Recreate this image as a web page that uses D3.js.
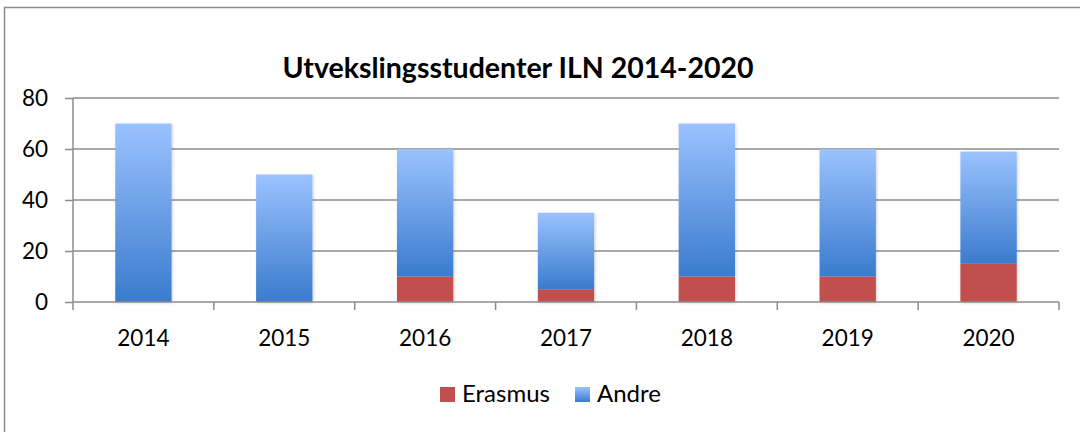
<!DOCTYPE html>
<html>
<head>
<meta charset="utf-8">
<script src="https://cdn.jsdelivr.net/npm/d3@7"></script>
<style>
  body { margin: 0; background: #fff; }
  text { font-family: Lato, "Open Sans", sans-serif; fill: #000; }
</style>
</head>
<body>
<div id="chart-area"></div>
<script>
// data
var years = ["2014", "2015", "2016", "2017", "2018", "2019", "2020"];
var erasmus = [0, 0, 10, 5, 10, 10, 15];
var andre = [70, 50, 50, 30, 60, 50, 44];
var yTicks = [0, 20, 40, 60, 80];
var seriesNames = ["Erasmus", "Andre"];

var W = 1080, H = 432;
var margin = {left: 73, right: 21, top: 98, bottom: 130};
var width = W - margin.left - margin.right;
var height = H - margin.top - margin.bottom;

var svg = d3.select("#chart-area").append("svg")
    .attr("width", W)
    .attr("height", H);

var defs = svg.append("defs");
var grad = defs.append("linearGradient")
    .attr("id", "blueGrad")
    .attr("x1", 0).attr("y1", 0).attr("x2", 0).attr("y2", 1);
grad.append("stop").attr("offset", "0%").attr("stop-color", "#9bc2ff");
grad.append("stop").attr("offset", "100%").attr("stop-color", "#3a7bcd");

var shadow = defs.append("filter").attr("id", "shadow")
    .attr("x", "-20%").attr("y", "-10%").attr("width", "140%").attr("height", "120%");
shadow.append("feDropShadow")
    .attr("dx", 1).attr("dy", 1).attr("stdDeviation", 1.5)
    .attr("flood-color", "#000").attr("flood-opacity", 0.18);

// outer frame (only left and top visible)
svg.append("path")
    .attr("d", "M4.5," + H + " V7.5 H" + W)
    .attr("fill", "none")
    .attr("stroke", "#8c8c8c")
    .attr("stroke-width", 1.5);

var g = svg.append("g")
    .attr("transform", "translate(" + margin.left + "," + margin.top + ")");

var x = d3.scaleBand().domain(years).range([0, width]).paddingInner(0.6).paddingOuter(0.3);
var xb = d3.scaleBand().domain(years).range([0, width]);
var y = d3.scaleLinear().domain([0, 80]).range([height, 0]);

// gridlines
g.append("g").selectAll("line")
    .data(yTicks.filter(function(d){ return d > 0; }))
    .enter().append("line")
    .attr("x1", 0).attr("x2", width)
    .attr("y1", function(d){ return y(d); })
    .attr("y2", function(d){ return y(d); })
    .attr("stroke", "#8c8c8c")
    .attr("stroke-width", 1.5);

// stacked data
var rows = years.map(function(yr, i){
    return {year: yr, Erasmus: erasmus[i], Andre: andre[i]};
});
var stack = d3.stack().keys(seriesNames)(rows);
var fills = {Erasmus: "#c0504d", Andre: "url(#blueGrad)"};

var bars = g.append("g").attr("filter", "url(#shadow)");
bars.selectAll("g.series")
    .data(stack)
    .enter().append("g")
    .attr("class", "series")
    .attr("fill", function(d){ return fills[d.key]; })
    .selectAll("rect")
    .data(function(d){ return d.filter(function(p){ return p[1] - p[0] > 0; }); })
    .enter().append("rect")
    .attr("x", function(d){ return x(d.data.year); })
    .attr("y", function(d){ return y(d[1]); })
    .attr("width", x.bandwidth())
    .attr("height", function(d){ return y(d[0]) - y(d[1]); });

// y axis
var yAxis = g.append("g")
    .call(d3.axisLeft(y).tickValues(yTicks).tickSize(8).tickPadding(17));
yAxis.select(".domain").attr("stroke", "#8c8c8c").attr("stroke-width", 1.5)
    .attr("d", "M0," + height + "V0");
yAxis.selectAll(".tick line").attr("stroke", "#8c8c8c").attr("stroke-width", 1.5);
yAxis.selectAll(".tick text").attr("font-size", "22.5px").attr("font-family", "Lato, sans-serif").attr("fill", "#000");

// x axis
var xAxisG = g.append("g").attr("transform", "translate(0," + height + ")");
xAxisG.append("line")
    .attr("x1", 0).attr("x2", width)
    .attr("stroke", "#8c8c8c").attr("stroke-width", 1.5);
var bounds = [0].concat(years.map(function(d){ return xb(d) + xb.bandwidth(); }));
xAxisG.selectAll("line.tk")
    .data(bounds)
    .enter().append("line")
    .attr("class", "tk")
    .attr("x1", function(d){ return d; }).attr("x2", function(d){ return d; })
    .attr("y1", 0).attr("y2", 8)
    .attr("stroke", "#8c8c8c").attr("stroke-width", 1.5);
xAxisG.selectAll("text")
    .data(years)
    .enter().append("text")
    .attr("x", function(d){ return xb(d) + xb.bandwidth() / 2; })
    .attr("y", 44)
    .attr("text-anchor", "middle")
    .attr("font-size", "22.5px")
    .text(function(d){ return d; });

// title
svg.append("text")
    .attr("x", 518)
    .attr("y", 78)
    .attr("text-anchor", "middle")
    .attr("font-size", "28.5px")
    .attr("font-weight", "bold")
    .text("Utvekslingsstudenter ILN 2014-2020");

// legend
var legend = svg.append("g").attr("transform", "translate(440,387)");
var lx = [0, 135];
seriesNames.forEach(function(name, i){
    var item = legend.append("g").attr("transform", "translate(" + lx[i] + ",0)");
    item.append("rect")
        .attr("width", 15).attr("height", 15)
        .attr("fill", fills[name]);
    item.append("text")
        .attr("x", 22).attr("y", 15)
        .attr("font-size", "24px")
        .text(name);
});
</script>
</body>
</html>
